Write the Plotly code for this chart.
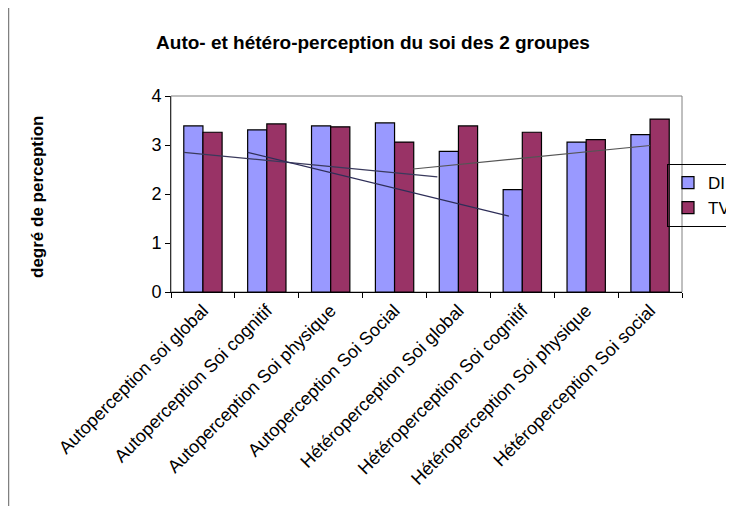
import plotly.graph_objects as go

categories = [
    "Autoperception soi global",
    "Autoperception Soi cognitif",
    "Autoperception Soi physique",
    "Autoperception Soi Social",
    "Hétéroperception Soi global",
    "Hétéroperception Soi cognitif",
    "Hétéroperception Soi physique",
    "Hétéroperception Soi social",
]
di_values = [3.39, 3.31, 3.39, 3.45, 2.87, 2.09, 3.06, 3.21]
tv_values = [3.26, 3.43, 3.37, 3.06, 3.39, 3.26, 3.11, 3.53]

# straight lines drawn over the bars (x in category units, 0 = first category)
line1_x = [-0.30, 3.67]
line1_y = [2.85, 2.35]
line2_x = [0.70, 4.79]
line2_y = [2.85, 1.55]
line3_x = [3.29, 7.00]
line3_y = [2.51, 2.99]

y_ticks = [0, 1, 2, 3, 4]

xpos = list(range(len(categories)))

fig = go.Figure()
fig.add_trace(go.Bar(x=xpos, y=di_values, name="DI",
                     marker=dict(color="#9999FF", line=dict(color="#000000", width=1.2))))
fig.add_trace(go.Bar(x=xpos, y=tv_values, name="TV",
                     marker=dict(color="#993366", line=dict(color="#000000", width=1.2))))

for lx, ly, col in [(line1_x, line1_y, "#3a3a5c"),
                    (line2_x, line2_y, "#2e2e58"),
                    (line3_x, line3_y, "#555555")]:
    fig.add_trace(go.Scatter(x=lx, y=ly, mode="lines", showlegend=False,
                             line=dict(color=col, width=1.2), hoverinfo="skip"))

OFF = 8  # page body margin
W, H = 734 - OFF, 506 - OFF
L, R, T, B = 171 - OFF, 682 - OFF, 96 - OFF, 292 - OFF
pw, ph = R - L, B - T

def px(x):
    return (x - OFF - L) / pw

def py(y):
    return (B - (y - OFF)) / ph

FONT = "Liberation Sans, Arial, sans-serif"

fig.update_layout(
    width=W, height=H,
    margin=dict(l=L, r=W - R, t=T, b=H - B, autoexpand=False),
    paper_bgcolor="white", plot_bgcolor="white",
    barmode="group", bargap=0.4, bargroupgap=0,
    font=dict(family=FONT, color="#000000"),
    title=dict(text="<b>Auto- et hétéro-perception du soi des 2 groupes</b>",
               x=(373 - OFF) / W, xanchor="center", xref="container",
               y=1 - (42 - OFF) / H, yanchor="middle", yref="container",
               font=dict(size=19, family=FONT)),
    xaxis=dict(
        range=[-0.5, len(categories) - 0.5],
        tickvals=xpos, ticktext=categories,
        tickangle=-45, ticks="",
        tickfont=dict(size=18),
        showline=True, linecolor="#000000", linewidth=1,
        showgrid=False, zeroline=False, automargin=False,
        minor=dict(tickvals=[i - 0.5 for i in range(len(categories) + 1)],
                   ticks="outside", ticklen=5, tickcolor="#000000", showgrid=False),
    ),
    yaxis=dict(
        range=[0, 4], tickvals=y_ticks,
        ticks="outside", ticklen=5, tickcolor="#000000",
        tickfont=dict(size=18),
        showline=True, linecolor="#333333", linewidth=1,
        showgrid=False, zeroline=False, automargin=False,
    ),
    legend=dict(
        x=px(667), y=py(164), xanchor="left", yanchor="top",
        bordercolor="#000000", borderwidth=1, bgcolor="rgba(255,255,255,0)",
        font=dict(size=17), tracegroupgap=0, itemwidth=30,
    ),
    annotations=[
        dict(text="<b>degré de perception</b>", xref="paper", yref="paper",
             x=px(37), y=py(197), xanchor="center", yanchor="middle",
             textangle=-90, showarrow=False, font=dict(size=17, family=FONT)),
    ],
    shapes=[
        # plot area border (top/right, gray)
        dict(type="rect", xref="paper", yref="paper", x0=0, x1=1, y0=0, y1=1,
             line=dict(color="#808080", width=1), layer="below"),
        # outer chart frame
        dict(type="line", xref="paper", yref="paper", x0=px(8.5), x1=px(8.5),
             y0=py(H + 20), y1=py(1), line=dict(color="#808080", width=1.5)),
        dict(type="line", xref="paper", yref="paper", x0=px(8.5), x1=px(W + 20),
             y0=py(1), y1=py(1), line=dict(color="#808080", width=1.5)),
    ],
)

fig.write_html("out.html")
